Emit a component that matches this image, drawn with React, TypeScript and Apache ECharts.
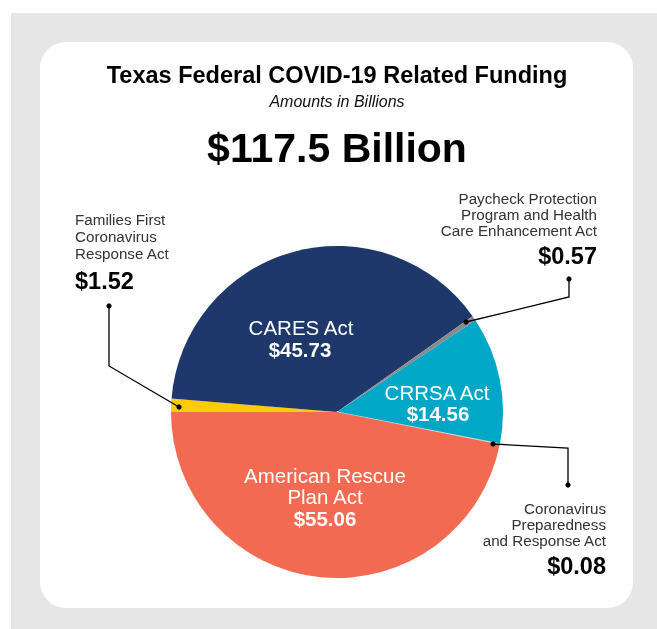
import React, { useEffect, useRef } from "react";
import * as echarts from "echarts";

const categories = [
  "Families First Coronavirus Response Act",
  "CARES Act",
  "Paycheck Protection Program and Health Care Enhancement Act",
  "CRRSA Act",
  "Coronavirus Preparedness and Response Act",
  "American Rescue Plan Act",
];
const values = [1.52, 45.73, 0.57, 14.56, 0.08, 55.06];
const colors = ["#ffcb05", "#1e386b", "#8a8a8a", "#00a7c7", "#d4d4d4", "#f26a51"];
const title = "Texas Federal COVID-19 Related Funding";
const subtitle = "Amounts in Billions";
const totalLabel = "$117.5 Billion";

const FONT = "'Liberation Sans', Arial, Helvetica, sans-serif";
const fmt = (v: number) => "$" + v.toFixed(2);

export default function App() {
  const ref = useRef<HTMLDivElement>(null);
  useEffect(() => {
    if (!ref.current) return;
    const chart = echarts.init(ref.current, undefined, { renderer: "svg" });
    const cx = 337, cy = 412, R = 166;

    const txt = (x: number, y: number, text: string, size: number, opts: any = {}) => ({
      type: "text",
      x,
      y,
      z: 10,
      style: {
        text,
        fontFamily: FONT,
        fontSize: size,
        fontWeight: opts.bold ? "bold" : "normal",
        fontStyle: opts.italic ? "italic" : "normal",
        fill: opts.fill || "#000",
        align: opts.align || "center",
        verticalAlign: "middle",
      },
    });
    const dot = (x: number, y: number) => ({
      type: "circle",
      z: 10,
      shape: { cx: x, cy: y, r: 2.6 },
      style: { fill: "#000" },
    });
    const leader = (pts: number[][]) => ({
      type: "polyline",
      z: 9,
      shape: { points: pts },
      style: { stroke: "#000", lineWidth: 1.3, fill: null },
    });
    const IN = 20.5;
    const OUT = 15.2;
    const VAL = 23.5;

    chart.setOption({
      animation: false,
      graphic: [
        { type: "rect", z: 0, shape: { x: 11, y: 13, width: 646, height: 616 }, style: { fill: "#e6e6e6" } },
        { type: "rect", z: 1, shape: { x: 40, y: 42, width: 593, height: 566, r: 26 }, style: { fill: "#ffffff" } },
        txt(337, 75, title, 23.5, { bold: true }),
        txt(337, 101, subtitle, 16, { italic: true, fill: "#111" }),
        txt(337, 148, totalLabel, 41, { bold: true }),
        // inside labels
        txt(301, 327, categories[1], IN, { fill: "#fff" }),
        txt(300, 349, fmt(values[1]), IN, { fill: "#fff", bold: true }),
        txt(437, 392, categories[3], IN, { fill: "#fff" }),
        txt(438, 413, fmt(values[3]), IN, { fill: "#fff", bold: true }),
        txt(325, 475, "American Rescue", IN, { fill: "#fff" }),
        txt(325, 496, "Plan Act", IN, { fill: "#fff" }),
        txt(325, 518, fmt(values[5]), IN, { fill: "#fff", bold: true }),
        // Families First
        txt(75, 219, "Families First", OUT, { align: "left", fill: "#333" }),
        txt(75, 236, "Coronavirus", OUT, { align: "left", fill: "#333" }),
        txt(75, 253, "Response Act", OUT, { align: "left", fill: "#333" }),
        txt(75, 281, fmt(values[0]), VAL, { align: "left", bold: true }),
        leader([[109, 306], [109, 366], [179, 407]]),
        dot(109, 306),
        dot(179, 407),
        // PPP
        txt(597, 198, "Paycheck Protection", OUT, { align: "right", fill: "#333" }),
        txt(597, 214, "Program and Health", OUT, { align: "right", fill: "#333" }),
        txt(597, 230, "Care Enhancement Act", OUT, { align: "right", fill: "#333" }),
        txt(597, 256, fmt(values[2]), VAL, { align: "right", bold: true }),
        leader([[569, 279], [569, 297], [466, 322]]),
        dot(569, 279),
        dot(466, 322),
        // Prep
        txt(606, 508, "Coronavirus", OUT, { align: "right", fill: "#333" }),
        txt(606, 524, "Preparedness", OUT, { align: "right", fill: "#333" }),
        txt(606, 540, "and Response Act", OUT, { align: "right", fill: "#333" }),
        txt(606, 566, fmt(values[4]), VAL, { align: "right", bold: true }),
        leader([[493, 444], [568, 448], [568, 485]]),
        dot(493, 444),
        dot(568, 485),
      ],
      series: [
        {
          type: "pie",
          z: 5,
          center: [cx, cy],
          radius: [0, R],
          startAngle: 180,
          clockwise: true,
          minAngle: 0,
          avoidLabelOverlap: false,
          label: { show: false },
          labelLine: { show: false },
          emphasis: { disabled: true },
          data: values.map((v, i) => ({
            name: categories[i],
            value: v,
            itemStyle: {
              color: colors[i],
              borderColor: i === 4 ? colors[i] : undefined,
              borderWidth: i === 4 ? 1.2 : 0,
            },
          })),
        },
      ],
    });
    return () => chart.dispose();
  }, []);
  return (
    <div
      ref={ref}
      style={{ position: "fixed", left: 0, top: 0, width: 657, height: 629 }}
    />
  );
}
